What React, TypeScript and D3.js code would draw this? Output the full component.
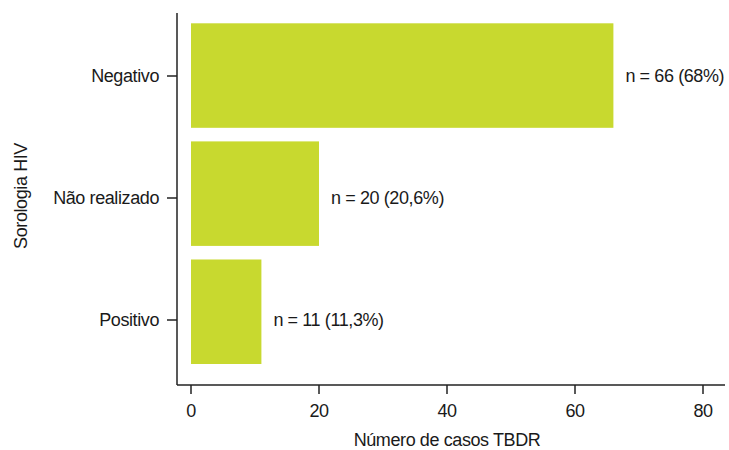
import React from "react";
import * as d3 from "d3";

const categories = ["Negativo", "Não realizado", "Positivo"];
const counts = [66, 20, 11];
const valueLabels = ["n = 66 (68%)", "n = 20 (20,6%)", "n = 11 (11,3%)"];
const xTicks = [0, 20, 40, 60, 80];
const xTitle = "Número de casos TBDR";
const yTitle = "Sorologia HIV";

const W = 729;
const H = 450;
const FONT = "'Liberation Sans', Arial, sans-serif";
const FS = 18;
const LS = -0.4;
const TXT = "#1a1a1a";

export default function App() {
  const x = d3.scaleLinear().domain([0, 80]).range([191, 703]);
  const yBand = d3
    .scaleBand<string>()
    .domain(categories)
    .range([23.3, 364])
    .paddingInner(0.115)
    .paddingOuter(0);
  const yTick = d3.scalePoint<string>().domain(categories).range([76, 320]);

  const axisX0 = 177;
  const axisY = 385;

  return (
    <svg
      width={W}
      height={H}
      style={{ position: "absolute", left: 0, top: 0, background: "#fff" }}
      fontFamily={FONT}
    >
      {categories.map((c, i) => (
        <rect
          key={c}
          x={x(0)}
          y={yBand(c)}
          width={x(counts[i]) - x(0)}
          height={yBand.bandwidth()}
          fill="#c8d92f"
        />
      ))}
      {categories.map((c, i) => (
        <text
          key={"v" + c}
          x={x(counts[i]) + 12}
          y={yTick(c)}
          dy="0.35em"
          fontSize={FS}
          letterSpacing={LS}
          fill={TXT}
        >
          {valueLabels[i]}
        </text>
      ))}
      {/* y axis */}
      <line x1={axisX0} x2={axisX0} y1={13} y2={axisY} stroke="#222" strokeWidth={1.5} />
      {categories.map((c) => (
        <g key={"t" + c}>
          <line x1={167} x2={axisX0} y1={yTick(c)} y2={yTick(c)} stroke="#222" strokeWidth={1.5} />
          <text
            x={159}
            y={yTick(c)}
            dy="0.35em"
            textAnchor="end"
            fontSize={FS}
            letterSpacing={LS}
            fill={TXT}
          >
            {c}
          </text>
        </g>
      ))}
      {/* x axis */}
      <line x1={axisX0} x2={725} y1={axisY} y2={axisY} stroke="#222" strokeWidth={1.5} />
      {xTicks.map((t) => (
        <g key={"x" + t}>
          <line x1={x(t)} x2={x(t)} y1={axisY} y2={axisY + 9} stroke="#222" strokeWidth={1.5} />
          <text
            x={x(t)}
            y={411}
            dy="0.35em"
            textAnchor="middle"
            fontSize={FS}
            letterSpacing={LS}
            fill={TXT}
          >
            {t}
          </text>
        </g>
      ))}
      <text
        x={447}
        y={440}
        dy="0.35em"
        textAnchor="middle"
        fontSize={FS}
        letterSpacing={LS}
        fill={TXT}
      >
        {xTitle}
      </text>
      <text
        transform={`translate(21,196) rotate(-90)`}
        dy="0.35em"
        textAnchor="middle"
        fontSize={FS}
        letterSpacing={LS}
        fill={TXT}
      >
        {yTitle}
      </text>
    </svg>
  );
}
